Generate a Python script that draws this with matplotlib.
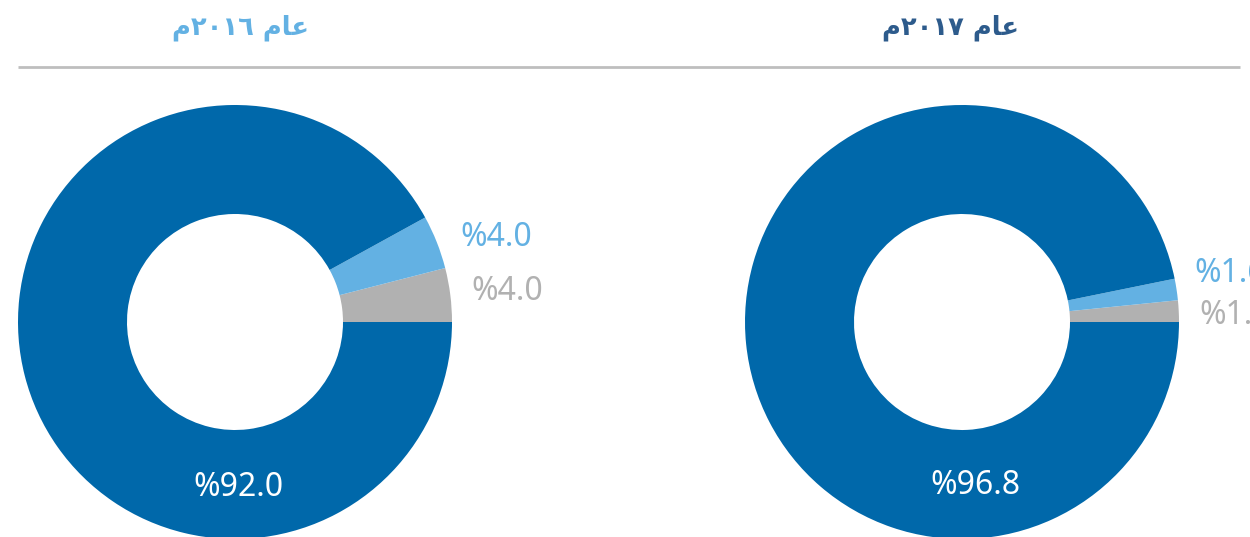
import matplotlib
matplotlib.use("Agg")
import matplotlib.pyplot as plt

# Dados
years = ["٢٠١٦", "٢٠١٧"]
labels_2016 = ["%4.0", "%4.0", "%92.0"]
labels_2017 = ["%1.6", "%1.6", "%96.8"]
shares_2016 = [4.0, 4.0, 92.0]   # cinza, azul claro, azul escuro
shares_2017 = [1.6, 1.6, 96.8]

colors = ["#B1B1B1", "#63B1E3", "#0068AA"]
title_colors = ["#63B1E3", "#2D5B8C"]

def arabic_title(year):
    # matplotlib does not shape Arabic: give visual order and presentation forms
    return "\uFEE1" + year + " " + "\uFEE1\uFE8E\uFECB"

fig = plt.figure(figsize=(12.5, 5.37), dpi=100)
ax = fig.add_axes([0, 0, 1, 1])

H = 537
centers = [(235, H - 322), (962, H - 322)]
r_out, r_in = 217, 108

for c, shares in zip(centers, [shares_2016, shares_2017]):
    ax.pie(shares, colors=colors, startangle=0, counterclock=True,
           center=c, radius=r_out,
           wedgeprops=dict(width=r_out - r_in, linewidth=0))

ax.set_xlim(0, 1250)
ax.set_ylim(0, H)
ax.set_aspect("auto")
ax.axis("off")

# Títulos
title_x = [240, 951]
for x, yr, col in zip(title_x, years, title_colors):
    ax.text(x, H - 28, arabic_title(yr), ha="center", va="center",
            fontsize=18.5, fontweight="bold", color=col, family=["DejaVu Sans"])
ax.plot([18, 1240], [H - 67, H - 67], color="#BEBEBE", lw=2, solid_capstyle="butt")

# Rótulos
lab_font = dict(fontsize=23, family=["Noto Sans", "DejaVu Sans"], va="center")
l16, l17 = labels_2016, labels_2017
ax.text(460, H - 238, l16[1], color=colors[1], ha="left", **lab_font)
ax.text(471, H - 292, l16[0], color=colors[0], ha="left", **lab_font)
ax.text(238, H - 488, l16[2], color="white", ha="center", **lab_font)
ax.text(1194, H - 274, l17[1], color=colors[1], ha="left", **lab_font)
ax.text(1199, H - 316, l17[0], color=colors[0], ha="left", **lab_font)
ax.text(975, H - 485, l17[2], color="white", ha="center", **lab_font)

fig.savefig("out.png", dpi=100)
